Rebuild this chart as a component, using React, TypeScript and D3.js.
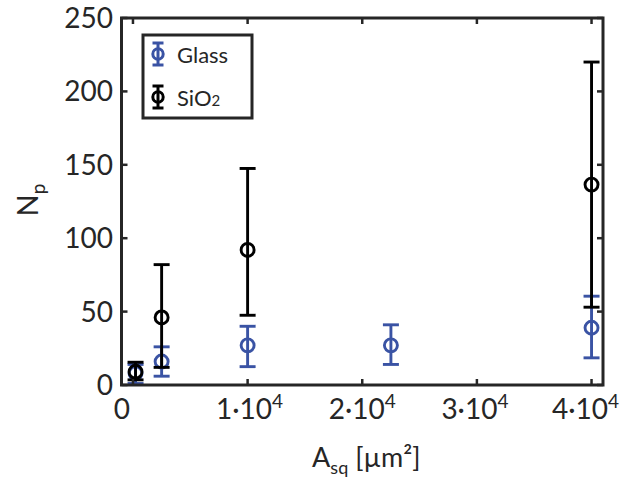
import React from "react";
import * as d3 from "d3";

// areas of the squares [µm²]
const glassArea = [225, 2500, 10000, 22500, 40000];
const glassNp = [8, 16, 27, 27, 39];
const glassLow = [1, 6, 12.5, 14, 18.5];
const glassHigh = [14, 26, 40, 41, 60.5];

const sio2Area = [225, 2500, 10000, 40000];
const sio2Np = [9, 46, 92, 136.5];
const sio2Low = [3.5, 12, 47.5, 53];
const sio2High = [15.5, 82, 147.5, 220];

const xTicks = [0, 1, 2, 3, 4];
const xLabelNudge = [-11, 2, 0, -2, -6];
const yTicks = [0, 50, 100, 150, 200, 250];

const BLUE = "#3A53A4";
const FRAME = "#262626";
const FONT = "Lato, 'Open Sans', sans-serif";

type Series = { name: string; color: string; x: number[]; y: number[]; lo: number[]; hi: number[] };

const series: Series[] = [
  { name: "Glass", color: BLUE, x: glassArea, y: glassNp, lo: glassLow, hi: glassHigh },
  { name: "SiO2", color: "#000", x: sio2Area, y: sio2Np, lo: sio2Low, hi: sio2High },
];

const App = () => {
  const W = 626;
  const H = 479;
  const left = 121.5,
    right = 603,
    top = 18,
    bottom = 385;

  const x = d3.scaleLinear().domain([-1000, 41000]).range([left, right]);
  const y = d3.scaleLinear().domain([0, 250]).range([bottom, top]);

  const tickLen = 6;
  const cap = 8;
  const r = 6.5;

  return (
    <svg
      width={W}
      height={H}
      style={{ position: "absolute", left: 0, top: 0, background: "#fff" }}
      fontFamily={FONT}
    >
      {/* error bars + markers */}
      {series.map((s) => (
        <g key={s.name} stroke={s.color} strokeWidth={2.9} fill="none">
          {s.x.map((v, i) => {
            const cx = x(v);
            return (
              <g key={i}>
                <line x1={cx} x2={cx} y1={y(s.lo[i])} y2={y(s.hi[i])} />
                <line x1={cx - cap} x2={cx + cap} y1={y(s.lo[i])} y2={y(s.lo[i])} />
                <line x1={cx - cap} x2={cx + cap} y1={y(s.hi[i])} y2={y(s.hi[i])} />
                <circle cx={cx} cy={y(s.y[i])} r={r} />
              </g>
            );
          })}
        </g>
      ))}

      {/* ticks (inside, box on) */}
      <g stroke={FRAME} strokeWidth={2.5}>
        {xTicks.map((t) => (
          <g key={"x" + t}>
            <line x1={x(t * 1e4)} x2={x(t * 1e4)} y1={bottom} y2={bottom - tickLen} />
            <line x1={x(t * 1e4)} x2={x(t * 1e4)} y1={top} y2={top + tickLen} />
          </g>
        ))}
        {yTicks.map((t) => (
          <g key={"y" + t}>
            <line x1={left} x2={left + tickLen} y1={y(t)} y2={y(t)} />
            <line x1={right} x2={right - tickLen} y1={y(t)} y2={y(t)} />
          </g>
        ))}
      </g>
      <rect
        x={left}
        y={top}
        width={right - left}
        height={bottom - top}
        fill="none"
        stroke={FRAME}
        strokeWidth={3}
      />

      {/* x tick labels */}
      <g fill={FRAME} fontSize={28} textAnchor="middle">
        {xTicks.map((t, i) =>
          t === 0 ? (
            <text key={t} x={x(0) + xLabelNudge[i]} y={419}>
              0
            </text>
          ) : (
            <text key={t} x={x(t * 1e4) + xLabelNudge[i]} y={419}>
              {`${t}·10`}
              <tspan fontSize={19} dy={-11}>
                4
              </tspan>
            </text>
          )
        )}
      </g>

      {/* y tick labels */}
      <g fill={FRAME} fontSize={28} textAnchor="end">
        {yTicks.map((t) => (
          <text key={t} x={113} y={y(t) + 10}>
            {t}
          </text>
        ))}
      </g>

      {/* axis labels */}
      <text x={(left + right) / 2 + 4} y={467} fill={FRAME} fontSize={27} textAnchor="middle">
        A
        <tspan fontSize={18} dy={7}>
          sq
        </tspan>
        <tspan dy={-7}> [µm²]</tspan>
      </text>
      <text
        transform="translate(38,200) rotate(-90)"
        fill={FRAME}
        fontSize={29}
        textAnchor="middle"
      >
        N
        <tspan fontSize={19} dy={7}>
          p
        </tspan>
      </text>

      {/* legend */}
      <g>
        <rect x={143} y={35} width={109} height={83} fill="#fff" stroke={FRAME} strokeWidth={3} />
        {series.map((s, i) => {
          const cy = 54 + i * 43;
          const lx = 158;
          return (
            <g key={s.name}>
              <g stroke={s.color} strokeWidth={3} fill="none">
                <line x1={lx} x2={lx} y1={cy - 11} y2={cy + 11} />
                <line x1={lx - 5.5} x2={lx + 5.5} y1={cy - 11} y2={cy - 11} />
                <line x1={lx - 5.5} x2={lx + 5.5} y1={cy + 11} y2={cy + 11} />
                <circle cx={lx} cy={cy} r={5.2} />
              </g>
              <text x={177} y={cy + 9} fontSize={22} fill={FRAME}>
                {s.name === "SiO2" ? (
                  <>
                    SiO<tspan fontSize={15}>2</tspan>
                  </>
                ) : (
                  s.name
                )}
              </text>
            </g>
          );
        })}
      </g>
    </svg>
  );
};

export default App;
